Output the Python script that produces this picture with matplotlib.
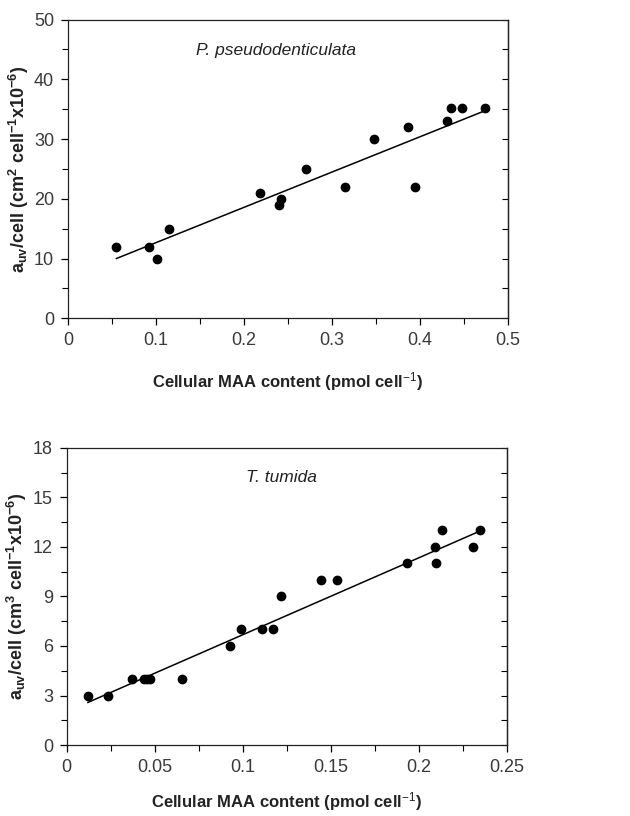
import matplotlib
matplotlib.use("Agg")
import matplotlib.pyplot as plt
from matplotlib.ticker import MultipleLocator

plt.rcParams['font.family'] = ['Liberation Sans', 'DejaVu Sans']
plt.rcParams['mathtext.fontset'] = 'custom'
plt.rcParams['mathtext.rm'] = 'Liberation Sans'
plt.rcParams['mathtext.bf'] = 'Liberation Sans:bold'
plt.rcParams['mathtext.it'] = 'Liberation Sans:italic'

# P. pseudodenticulata
pp_maa = [0.055, 0.092, 0.1015, 0.115, 0.218, 0.240, 0.242, 0.271, 0.315,
          0.348, 0.386, 0.395, 0.431, 0.435, 0.448, 0.474]
pp_auv = [12, 12, 10, 15, 21, 19, 20, 25, 22, 30, 32, 22, 33, 35.2, 35.2, 35.2]
pp_fit_x = [0.055, 0.475]
pp_fit_y = [10.0, 34.8]

# T. tumida
tt_maa = [0.012, 0.0237, 0.037, 0.044, 0.0455, 0.0473, 0.0653, 0.0928, 0.0989,
          0.111, 0.117, 0.122, 0.1447, 0.1538, 0.1936, 0.2095, 0.2097, 0.2131,
          0.231, 0.2348]
tt_auv = [3, 3, 4, 4, 4, 4, 4, 6, 7, 7, 7, 9, 10, 10, 11, 12, 11, 13, 12, 13]
tt_fit_x = [0.012, 0.235]
tt_fit_y = [2.58, 12.97]

fig = plt.figure(figsize=(6.3, 8.16), dpi=100)
ax1 = fig.add_axes([0.108, 0.610, 0.698, 0.366])
ax2 = fig.add_axes([0.106, 0.087, 0.698, 0.364])

tick_col = '#3a3a3a'


def style(ax, xmax, xmaj, xmin, ymax, ymaj, ymin, ylabel, name, name_pos, xlabpad):
    ax.set_xlim(0, xmax)
    ax.set_ylim(0, ymax)
    ax.xaxis.set_major_locator(MultipleLocator(xmaj))
    ax.xaxis.set_minor_locator(MultipleLocator(xmin))
    ax.yaxis.set_major_locator(MultipleLocator(ymaj))
    ax.yaxis.set_minor_locator(MultipleLocator(ymin))
    ax.tick_params(which='major', direction='out', length=5, width=0.9,
                   labelsize=13, labelcolor=tick_col, pad=5)
    ax.tick_params(which='minor', direction='out', length=4, width=0.8)
    ax.xaxis.set_major_formatter(plt.FuncFormatter(lambda v, p: ('%g' % v)))
    for s in ax.spines.values():
        s.set_linewidth(0.9)
        s.set_color('#222222')
    sec = ax.secondary_yaxis('right')
    sec.yaxis.set_major_locator(MultipleLocator(ymin))
    sec.tick_params(which='major', direction='in', length=4, width=0.8, labelright=False)
    sec.spines['right'].set_linewidth(0.9)
    ax.set_xlabel(r'Cellular MAA content (pmol cell$^{-1}$)', fontsize=12,
                  fontweight='bold', color='#222222', labelpad=xlabpad)
    ax.set_ylabel(ylabel, fontsize=13, fontweight='bold', color='#222222')
    ax.yaxis.set_label_coords(-0.085, 0.5)
    ax.text(name_pos[0], name_pos[1], name, transform=ax.transAxes, ha='center',
            va='center', fontsize=12.5, style='italic', color='#222222')


ax1.scatter(pp_maa, pp_auv, s=36, color='black', zorder=3)
ax1.plot(pp_fit_x, pp_fit_y, color='black', lw=1.1)
style(ax1, 0.5, 0.1, 0.05, 50, 10, 5,
      r'a$_{\mathbf{uv}}$/cell (cm$^{\mathbf{2}}$ cell$^{\mathbf{-1}}$x10$^{\mathbf{-6}}$)',
      'P. pseudodenticulata', (0.473, 0.896), 15)

ax2.scatter(tt_maa, tt_auv, s=36, color='black', zorder=3)
ax2.plot(tt_fit_x, tt_fit_y, color='black', lw=1.1)
style(ax2, 0.25, 0.05, 0.025, 18, 3, 1.5,
      r'a$_{\mathbf{uv}}$/cell (cm$^{\mathbf{3}}$ cell$^{\mathbf{-1}}$x10$^{\mathbf{-6}}$)',
      'T. tumida', (0.489, 0.90), 10)

fig.savefig('out.png', dpi=100)
